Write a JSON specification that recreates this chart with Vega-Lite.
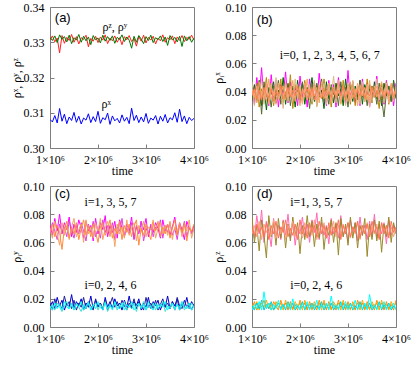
{
"$schema":"https://vega.github.io/schema/vega-lite/v6.json",
"background":"white",
"padding":{"left":9,"top":0,"right":0,"bottom":0},
"columns":2,
"spacing":{"row":2,"column":2},
"resolve":{"scale":{"color":"independent","x":"independent","y":"independent"}},
"datasets":{
"a":[
{"t":1000000,"x":0.3081,"y":0.3314,"z":0.3306},
{"t":1050000,"x":0.3074,"y":0.3305,"z":0.3318},
{"t":1100000,"x":0.3092,"y":0.3318,"z":0.3301},
{"t":1150000,"x":0.3071,"y":0.3299,"z":0.3312},
{"t":1200000,"x":0.3112,"y":0.3321,"z":0.3270},
{"t":1250000,"x":0.3076,"y":0.3308,"z":0.3319},
{"t":1300000,"x":0.3096,"y":0.3316,"z":0.3297},
{"t":1350000,"x":0.3069,"y":0.3301,"z":0.3314},
{"t":1400000,"x":0.3088,"y":0.3320,"z":0.3305},
{"t":1450000,"x":0.3078,"y":0.3296,"z":0.3322},
{"t":1500000,"x":0.3101,"y":0.3313,"z":0.3300},
{"t":1550000,"x":0.3073,"y":0.3306,"z":0.3316},
{"t":1600000,"x":0.3090,"y":0.3322,"z":0.3295},
{"t":1650000,"x":0.3068,"y":0.3300,"z":0.3313},
{"t":1700000,"x":0.3085,"y":0.3317,"z":0.3308},
{"t":1750000,"x":0.3079,"y":0.3304,"z":0.3320},
{"t":1800000,"x":0.3097,"y":0.3315,"z":0.3287},
{"t":1850000,"x":0.3072,"y":0.3293,"z":0.3311},
{"t":1900000,"x":0.3089,"y":0.3319,"z":0.3303},
{"t":1950000,"x":0.3075,"y":0.3307,"z":0.3317},
{"t":2000000,"x":0.3104,"y":0.3312,"z":0.3299},
{"t":2050000,"x":0.3070,"y":0.3298,"z":0.3315},
{"t":2100000,"x":0.3086,"y":0.3320,"z":0.3306},
{"t":2150000,"x":0.3080,"y":0.3303,"z":0.3321},
{"t":2200000,"x":0.3099,"y":0.3316,"z":0.3296},
{"t":2250000,"x":0.3067,"y":0.3305,"z":0.3312},
{"t":2300000,"x":0.3091,"y":0.3318,"z":0.3304},
{"t":2350000,"x":0.3077,"y":0.3297,"z":0.3318},
{"t":2400000,"x":0.3084,"y":0.3314,"z":0.3300},
{"t":2450000,"x":0.3071,"y":0.3308,"z":0.3313},
{"t":2500000,"x":0.3094,"y":0.3321,"z":0.3293},
{"t":2550000,"x":0.3076,"y":0.3302,"z":0.3316},
{"t":2600000,"x":0.3087,"y":0.3315,"z":0.3307},
{"t":2650000,"x":0.3069,"y":0.3306,"z":0.3319},
{"t":2700000,"x":0.3113,"y":0.3283,"z":0.3302},
{"t":2750000,"x":0.3078,"y":0.3317,"z":0.3311},
{"t":2800000,"x":0.3093,"y":0.3300,"z":0.3289},
{"t":2850000,"x":0.3072,"y":0.3319,"z":0.3316},
{"t":2900000,"x":0.3088,"y":0.3309,"z":0.3303},
{"t":2950000,"x":0.3074,"y":0.3296,"z":0.3320},
{"t":3000000,"x":0.3098,"y":0.3316,"z":0.3298},
{"t":3050000,"x":0.3070,"y":0.3305,"z":0.3314},
{"t":3100000,"x":0.3085,"y":0.3320,"z":0.3306},
{"t":3150000,"x":0.3079,"y":0.3299,"z":0.3317},
{"t":3200000,"x":0.3092,"y":0.3313,"z":0.3295},
{"t":3250000,"x":0.3068,"y":0.3307,"z":0.3312},
{"t":3300000,"x":0.3090,"y":0.3318,"z":0.3304},
{"t":3350000,"x":0.3076,"y":0.3302,"z":0.3321},
{"t":3400000,"x":0.3095,"y":0.3315,"z":0.3300},
{"t":3450000,"x":0.3071,"y":0.3291,"z":0.3313},
{"t":3500000,"x":0.3086,"y":0.3319,"z":0.3307},
{"t":3550000,"x":0.3080,"y":0.3306,"z":0.3318},
{"t":3600000,"x":0.3100,"y":0.3314,"z":0.3296},
{"t":3650000,"x":0.3073,"y":0.3301,"z":0.3315},
{"t":3700000,"x":0.3110,"y":0.3317,"z":0.3305},
{"t":3750000,"x":0.3075,"y":0.3288,"z":0.3319},
{"t":3800000,"x":0.3091,"y":0.3318,"z":0.3302},
{"t":3850000,"x":0.3069,"y":0.3304,"z":0.3314},
{"t":3900000,"x":0.3087,"y":0.3316,"z":0.3308},
{"t":3950000,"x":0.3078,"y":0.3300,"z":0.3320},
{"t":4000000,"x":0.3084,"y":0.3312,"z":0.3306}
],
"b":[
{"t":1000000,"i0":0.044,"i1":0.036,"i2":0.041,"i3":0.033,"i4":0.047,"i5":0.038,"i6":0.042,"i7":0.037},
{"t":1050000,"i0":0.031,"i1":0.045,"i2":0.035,"i3":0.043,"i4":0.030,"i5":0.041,"i6":0.036,"i7":0.042},
{"t":1100000,"i0":0.050,"i1":0.033,"i2":0.046,"i3":0.038,"i4":0.040,"i5":0.032,"i6":0.044,"i7":0.035},
{"t":1150000,"i0":0.036,"i1":0.048,"i2":0.029,"i3":0.045,"i4":0.035,"i5":0.047,"i6":0.033,"i7":0.041},
{"t":1200000,"i0":0.057,"i1":0.030,"i2":0.042,"i3":0.024,"i4":0.049,"i5":0.036,"i6":0.040,"i7":0.034},
{"t":1250000,"i0":0.033,"i1":0.044,"i2":0.037,"i3":0.047,"i4":0.031,"i5":0.042,"i6":0.035,"i7":0.043},
{"t":1300000,"i0":0.046,"i1":0.027,"i2":0.050,"i3":0.036,"i4":0.043,"i5":0.033,"i6":0.046,"i7":0.038},
{"t":1350000,"i0":0.030,"i1":0.043,"i2":0.033,"i3":0.041,"i4":0.037,"i5":0.049,"i6":0.031,"i7":0.036},
{"t":1400000,"i0":0.052,"i1":0.038,"i2":0.045,"i3":0.029,"i4":0.046,"i5":0.035,"i6":0.043,"i7":0.042},
{"t":1450000,"i0":0.035,"i1":0.047,"i2":0.030,"i3":0.044,"i4":0.032,"i5":0.040,"i6":0.037,"i7":0.033},
{"t":1500000,"i0":0.048,"i1":0.032,"i2":0.043,"i3":0.037,"i4":0.050,"i5":0.031,"i6":0.045,"i7":0.040},
{"t":1550000,"i0":0.029,"i1":0.041,"i2":0.036,"i3":0.048,"i4":0.034,"i5":0.046,"i6":0.034,"i7":0.037},
{"t":1600000,"i0":0.045,"i1":0.035,"i2":0.049,"i3":0.031,"i4":0.039,"i5":0.038,"i6":0.042,"i7":0.044},
{"t":1650000,"i0":0.038,"i1":0.050,"i2":0.032,"i3":0.043,"i4":0.028,"i5":0.044,"i6":0.036,"i7":0.035},
{"t":1700000,"i0":0.054,"i1":0.031,"i2":0.040,"i3":0.035,"i4":0.047,"i5":0.034,"i6":0.046,"i7":0.039},
{"t":1750000,"i0":0.032,"i1":0.045,"i2":0.034,"i3":0.046,"i4":0.036,"i5":0.042,"i6":0.033,"i7":0.043},
{"t":1800000,"i0":0.047,"i1":0.036,"i2":0.052,"i3":0.030,"i4":0.041,"i5":0.037,"i6":0.044,"i7":0.036},
{"t":1850000,"i0":0.034,"i1":0.042,"i2":0.028,"i3":0.044,"i4":0.033,"i5":0.048,"i6":0.035,"i7":0.041},
{"t":1900000,"i0":0.043,"i1":0.029,"i2":0.045,"i3":0.038,"i4":0.049,"i5":0.033,"i6":0.041,"i7":0.037},
{"t":1950000,"i0":0.030,"i1":0.048,"i2":0.036,"i3":0.041,"i4":0.035,"i5":0.045,"i6":0.038,"i7":0.044},
{"t":2000000,"i0":0.051,"i1":0.034,"i2":0.042,"i3":0.032,"i4":0.044,"i5":0.030,"i6":0.043,"i7":0.035},
{"t":2050000,"i0":0.036,"i1":0.046,"i2":0.033,"i3":0.047,"i4":0.031,"i5":0.042,"i6":0.032,"i7":0.040},
{"t":2100000,"i0":0.044,"i1":0.031,"i2":0.048,"i3":0.036,"i4":0.042,"i5":0.036,"i6":0.046,"i7":0.038},
{"t":2150000,"i0":0.029,"i1":0.043,"i2":0.035,"i3":0.042,"i4":0.037,"i5":0.049,"i6":0.034,"i7":0.042},
{"t":2200000,"i0":0.049,"i1":0.037,"i2":0.041,"i3":0.028,"i4":0.045,"i5":0.034,"i6":0.042,"i7":0.036},
{"t":2250000,"i0":0.035,"i1":0.050,"i2":0.031,"i3":0.045,"i4":0.033,"i5":0.041,"i6":0.037,"i7":0.043},
{"t":2300000,"i0":0.046,"i1":0.033,"i2":0.047,"i3":0.034,"i4":0.048,"i5":0.037,"i6":0.044,"i7":0.034},
{"t":2350000,"i0":0.031,"i1":0.044,"i2":0.030,"i3":0.046,"i4":0.029,"i5":0.043,"i6":0.033,"i7":0.041},
{"t":2400000,"i0":0.053,"i1":0.036,"i2":0.043,"i3":0.037,"i4":0.042,"i5":0.032,"i6":0.045,"i7":0.038},
{"t":2450000,"i0":0.037,"i1":0.041,"i2":0.035,"i3":0.049,"i4":0.036,"i5":0.047,"i6":0.036,"i7":0.035},
{"t":2500000,"i0":0.044,"i1":0.028,"i2":0.049,"i3":0.033,"i4":0.046,"i5":0.035,"i6":0.042,"i7":0.042},
{"t":2550000,"i0":0.030,"i1":0.047,"i2":0.034,"i3":0.042,"i4":0.031,"i5":0.040,"i6":0.035,"i7":0.037},
{"t":2600000,"i0":0.048,"i1":0.035,"i2":0.044,"i3":0.031,"i4":0.043,"i5":0.046,"i6":0.046,"i7":0.040},
{"t":2650000,"i0":0.034,"i1":0.043,"i2":0.029,"i3":0.045,"i4":0.037,"i5":0.033,"i6":0.032,"i7":0.036},
{"t":2700000,"i0":0.045,"i1":0.032,"i2":0.041,"i3":0.038,"i4":0.051,"i5":0.042,"i6":0.043,"i7":0.043},
{"t":2750000,"i0":0.029,"i1":0.046,"i2":0.036,"i3":0.044,"i4":0.032,"i5":0.036,"i6":0.037,"i7":0.035},
{"t":2800000,"i0":0.050,"i1":0.037,"i2":0.046,"i3":0.030,"i4":0.044,"i5":0.048,"i6":0.045,"i7":0.041},
{"t":2850000,"i0":0.036,"i1":0.042,"i2":0.032,"i3":0.047,"i4":0.035,"i5":0.031,"i6":0.034,"i7":0.037},
{"t":2900000,"i0":0.043,"i1":0.030,"i2":0.048,"i3":0.035,"i4":0.041,"i5":0.044,"i6":0.041,"i7":0.044},
{"t":2950000,"i0":0.031,"i1":0.049,"i2":0.034,"i3":0.043,"i4":0.030,"i5":0.038,"i6":0.036,"i7":0.035},
{"t":3000000,"i0":0.055,"i1":0.034,"i2":0.045,"i3":0.029,"i4":0.046,"i5":0.033,"i6":0.044,"i7":0.040},
{"t":3050000,"i0":0.034,"i1":0.045,"i2":0.031,"i3":0.046,"i4":0.034,"i5":0.047,"i6":0.033,"i7":0.038},
{"t":3100000,"i0":0.047,"i1":0.033,"i2":0.047,"i3":0.037,"i4":0.048,"i5":0.035,"i6":0.043,"i7":0.042},
{"t":3150000,"i0":0.032,"i1":0.044,"i2":0.030,"i3":0.041,"i4":0.036,"i5":0.042,"i6":0.036,"i7":0.036},
{"t":3200000,"i0":0.042,"i1":0.036,"i2":0.043,"i3":0.034,"i4":0.044,"i5":0.030,"i6":0.046,"i7":0.041},
{"t":3250000,"i0":0.030,"i1":0.048,"i2":0.035,"i3":0.048,"i4":0.031,"i5":0.045,"i6":0.034,"i7":0.037},
{"t":3300000,"i0":0.049,"i1":0.031,"i2":0.046,"i3":0.036,"i4":0.047,"i5":0.037,"i6":0.042,"i7":0.043},
{"t":3350000,"i0":0.035,"i1":0.045,"i2":0.033,"i3":0.042,"i4":0.033,"i5":0.043,"i6":0.037,"i7":0.035},
{"t":3400000,"i0":0.046,"i1":0.038,"i2":0.049,"i3":0.030,"i4":0.045,"i5":0.034,"i6":0.045,"i7":0.040},
{"t":3450000,"i0":0.029,"i1":0.042,"i2":0.032,"i3":0.045,"i4":0.029,"i5":0.048,"i6":0.033,"i7":0.037},
{"t":3500000,"i0":0.044,"i1":0.032,"i2":0.044,"i3":0.038,"i4":0.042,"i5":0.032,"i6":0.042,"i7":0.043},
{"t":3550000,"i0":0.037,"i1":0.047,"i2":0.036,"i3":0.043,"i4":0.037,"i5":0.044,"i6":0.036,"i7":0.036},
{"t":3600000,"i0":0.051,"i1":0.035,"i2":0.040,"i3":0.031,"i4":0.049,"i5":0.036,"i6":0.044,"i7":0.041},
{"t":3650000,"i0":0.033,"i1":0.043,"i2":0.028,"i3":0.046,"i4":0.034,"i5":0.041,"i6":0.035,"i7":0.038},
{"t":3700000,"i0":0.045,"i1":0.030,"i2":0.046,"i3":0.035,"i4":0.043,"i5":0.047,"i6":0.043,"i7":0.042},
{"t":3750000,"i0":0.031,"i1":0.046,"i2":0.035,"i3":0.022,"i4":0.032,"i5":0.035,"i6":0.037,"i7":0.035},
{"t":3800000,"i0":0.048,"i1":0.037,"i2":0.047,"i3":0.039,"i4":0.046,"i5":0.043,"i6":0.045,"i7":0.040},
{"t":3850000,"i0":0.036,"i1":0.044,"i2":0.031,"i3":0.044,"i4":0.036,"i5":0.034,"i6":0.032,"i7":0.037},
{"t":3900000,"i0":0.043,"i1":0.033,"i2":0.045,"i3":0.033,"i4":0.041,"i5":0.046,"i6":0.044,"i7":0.043},
{"t":3950000,"i0":0.030,"i1":0.048,"i2":0.034,"i3":0.047,"i4":0.033,"i5":0.038,"i6":0.036,"i7":0.036},
{"t":4000000,"i0":0.046,"i1":0.035,"i2":0.042,"i3":0.036,"i4":0.044,"i5":0.041,"i6":0.041,"i7":0.040}
],
"c":[
{"t":1000000,"i0":0.014,"i1":0.072,"i2":0.017,"i3":0.066,"i4":0.013,"i5":0.070,"i6":0.015,"i7":0.068},
{"t":1050000,"i0":0.018,"i1":0.065,"i2":0.012,"i3":0.074,"i4":0.016,"i5":0.063,"i6":0.012,"i7":0.073},
{"t":1100000,"i0":0.013,"i1":0.077,"i2":0.020,"i3":0.068,"i4":0.012,"i5":0.075,"i6":0.017,"i7":0.064},
{"t":1150000,"i0":0.021,"i1":0.068,"i2":0.014,"i3":0.062,"i4":0.017,"i5":0.066,"i6":0.013,"i7":0.072},
{"t":1200000,"i0":0.015,"i1":0.080,"i2":0.016,"i3":0.073,"i4":0.014,"i5":0.058,"i6":0.016,"i7":0.067},
{"t":1250000,"i0":0.019,"i1":0.066,"i2":0.013,"i3":0.067,"i4":0.011,"i5":0.074,"i6":0.012,"i7":0.055},
{"t":1300000,"i0":0.012,"i1":0.074,"i2":0.022,"i3":0.071,"i4":0.015,"i5":0.065,"i6":0.018,"i7":0.070},
{"t":1350000,"i0":0.017,"i1":0.069,"i2":0.015,"i3":0.064,"i4":0.018,"i5":0.072,"i6":0.014,"i7":0.075},
{"t":1400000,"i0":0.014,"i1":0.078,"i2":0.018,"i3":0.075,"i4":0.013,"i5":0.062,"i6":0.013,"i7":0.063},
{"t":1450000,"i0":0.023,"i1":0.064,"i2":0.013,"i3":0.069,"i4":0.016,"i5":0.071,"i6":0.017,"i7":0.071},
{"t":1500000,"i0":0.013,"i1":0.073,"i2":0.019,"i3":0.063,"i4":0.012,"i5":0.077,"i6":0.012,"i7":0.066},
{"t":1550000,"i0":0.018,"i1":0.067,"i2":0.012,"i3":0.072,"i4":0.017,"i5":0.064,"i6":0.016,"i7":0.074},
{"t":1600000,"i0":0.015,"i1":0.076,"i2":0.017,"i3":0.066,"i4":0.014,"i5":0.069,"i6":0.014,"i7":0.062},
{"t":1650000,"i0":0.020,"i1":0.070,"i2":0.014,"i3":0.074,"i4":0.011,"i5":0.073,"i6":0.018,"i7":0.070},
{"t":1700000,"i0":0.012,"i1":0.063,"i2":0.021,"i3":0.068,"i4":0.016,"i5":0.060,"i6":0.012,"i7":0.076},
{"t":1750000,"i0":0.017,"i1":0.075,"i2":0.013,"i3":0.061,"i4":0.013,"i5":0.076,"i6":0.015,"i7":0.065},
{"t":1800000,"i0":0.014,"i1":0.068,"i2":0.018,"i3":0.073,"i4":0.018,"i5":0.066,"i6":0.017,"i7":0.072},
{"t":1850000,"i0":0.022,"i1":0.072,"i2":0.015,"i3":0.067,"i4":0.012,"i5":0.071,"i6":0.012,"i7":0.064},
{"t":1900000,"i0":0.013,"i1":0.061,"i2":0.012,"i3":0.075,"i4":0.015,"i5":0.063,"i6":0.016,"i7":0.073},
{"t":1950000,"i0":0.019,"i1":0.077,"i2":0.020,"i3":0.064,"i4":0.017,"i5":0.074,"i6":0.013,"i7":0.067},
{"t":2000000,"i0":0.015,"i1":0.066,"i2":0.014,"i3":0.070,"i4":0.012,"i5":0.068,"i6":0.018,"i7":0.060},
{"t":2050000,"i0":0.017,"i1":0.074,"i2":0.017,"i3":0.063,"i4":0.016,"i5":0.077,"i6":0.014,"i7":0.071},
{"t":2100000,"i0":0.012,"i1":0.069,"i2":0.013,"i3":0.076,"i4":0.013,"i5":0.062,"i6":0.012,"i7":0.074},
{"t":2150000,"i0":0.021,"i1":0.079,"i2":0.019,"i3":0.067,"i4":0.018,"i5":0.070,"i6":0.017,"i7":0.065},
{"t":2200000,"i0":0.014,"i1":0.064,"i2":0.012,"i3":0.072,"i4":0.011,"i5":0.075,"i6":0.013,"i7":0.069},
{"t":2250000,"i0":0.018,"i1":0.072,"i2":0.016,"i3":0.065,"i4":0.015,"i5":0.064,"i6":0.016,"i7":0.076},
{"t":2300000,"i0":0.013,"i1":0.067,"i2":0.021,"i3":0.074,"i4":0.013,"i5":0.072,"i6":0.012,"i7":0.063},
{"t":2350000,"i0":0.020,"i1":0.075,"i2":0.014,"i3":0.062,"i4":0.017,"i5":0.057,"i6":0.018,"i7":0.070},
{"t":2400000,"i0":0.015,"i1":0.063,"i2":0.018,"i3":0.071,"i4":0.012,"i5":0.073,"i6":0.014,"i7":0.066},
{"t":2450000,"i0":0.017,"i1":0.076,"i2":0.013,"i3":0.068,"i4":0.016,"i5":0.066,"i6":0.013,"i7":0.075},
{"t":2500000,"i0":0.012,"i1":0.070,"i2":0.019,"i3":0.077,"i4":0.014,"i5":0.071,"i6":0.017,"i7":0.062},
{"t":2550000,"i0":0.019,"i1":0.065,"i2":0.015,"i3":0.064,"i4":0.018,"i5":0.063,"i6":0.012,"i7":0.072},
{"t":2600000,"i0":0.014,"i1":0.073,"i2":0.012,"i3":0.070,"i4":0.012,"i5":0.076,"i6":0.016,"i7":0.067},
{"t":2650000,"i0":0.022,"i1":0.068,"i2":0.017,"i3":0.066,"i4":0.015,"i5":0.065,"i6":0.014,"i7":0.073},
{"t":2700000,"i0":0.013,"i1":0.078,"i2":0.014,"i3":0.074,"i4":0.013,"i5":0.070,"i6":0.018,"i7":0.064},
{"t":2750000,"i0":0.018,"i1":0.062,"i2":0.020,"i3":0.063,"i4":0.017,"i5":0.074,"i6":0.012,"i7":0.071},
{"t":2800000,"i0":0.015,"i1":0.071,"i2":0.013,"i3":0.072,"i4":0.011,"i5":0.061,"i6":0.015,"i7":0.076},
{"t":2850000,"i0":0.020,"i1":0.066,"i2":0.018,"i3":0.067,"i4":0.016,"i5":0.072,"i6":0.017,"i7":0.058},
{"t":2900000,"i0":0.012,"i1":0.075,"i2":0.015,"i3":0.075,"i4":0.014,"i5":0.067,"i6":0.013,"i7":0.070},
{"t":2950000,"i0":0.017,"i1":0.069,"i2":0.012,"i3":0.061,"i4":0.018,"i5":0.075,"i6":0.016,"i7":0.065},
{"t":3000000,"i0":0.014,"i1":0.077,"i2":0.021,"i3":0.070,"i4":0.012,"i5":0.064,"i6":0.012,"i7":0.073},
{"t":3050000,"i0":0.021,"i1":0.064,"i2":0.014,"i3":0.066,"i4":0.015,"i5":0.071,"i6":0.018,"i7":0.067},
{"t":3100000,"i0":0.013,"i1":0.072,"i2":0.017,"i3":0.073,"i4":0.013,"i5":0.069,"i6":0.014,"i7":0.062},
{"t":3150000,"i0":0.018,"i1":0.067,"i2":0.013,"i3":0.064,"i4":0.017,"i5":0.076,"i6":0.012,"i7":0.074},
{"t":3200000,"i0":0.015,"i1":0.074,"i2":0.019,"i3":0.071,"i4":0.012,"i5":0.063,"i6":0.017,"i7":0.068},
{"t":3250000,"i0":0.019,"i1":0.070,"i2":0.012,"i3":0.068,"i4":0.016,"i5":0.070,"i6":0.013,"i7":0.075},
{"t":3300000,"i0":0.012,"i1":0.063,"i2":0.016,"i3":0.076,"i4":0.014,"i5":0.074,"i6":0.016,"i7":0.064},
{"t":3350000,"i0":0.017,"i1":0.076,"i2":0.020,"i3":0.063,"i4":0.018,"i5":0.066,"i6":0.014,"i7":0.071},
{"t":3400000,"i0":0.014,"i1":0.068,"i2":0.014,"i3":0.072,"i4":0.011,"i5":0.072,"i6":0.018,"i7":0.066},
{"t":3450000,"i0":0.022,"i1":0.073,"i2":0.017,"i3":0.067,"i4":0.015,"i5":0.065,"i6":0.012,"i7":0.073},
{"t":3500000,"i0":0.013,"i1":0.065,"i2":0.013,"i3":0.074,"i4":0.013,"i5":0.075,"i6":0.015,"i7":0.063},
{"t":3550000,"i0":0.018,"i1":0.071,"i2":0.018,"i3":0.065,"i4":0.017,"i5":0.062,"i6":0.017,"i7":0.070},
{"t":3600000,"i0":0.015,"i1":0.078,"i2":0.012,"i3":0.070,"i4":0.012,"i5":0.071,"i6":0.013,"i7":0.076},
{"t":3650000,"i0":0.020,"i1":0.066,"i2":0.021,"i3":0.062,"i4":0.016,"i5":0.067,"i6":0.016,"i7":0.065},
{"t":3700000,"i0":0.012,"i1":0.074,"i2":0.015,"i3":0.073,"i4":0.014,"i5":0.074,"i6":0.012,"i7":0.072},
{"t":3750000,"i0":0.017,"i1":0.069,"i2":0.013,"i3":0.068,"i4":0.018,"i5":0.064,"i6":0.018,"i7":0.067},
{"t":3800000,"i0":0.014,"i1":0.062,"i2":0.019,"i3":0.075,"i4":0.012,"i5":0.072,"i6":0.014,"i7":0.074},
{"t":3850000,"i0":0.021,"i1":0.075,"i2":0.014,"i3":0.064,"i4":0.015,"i5":0.068,"i6":0.013,"i7":0.061},
{"t":3900000,"i0":0.013,"i1":0.070,"i2":0.017,"i3":0.071,"i4":0.013,"i5":0.076,"i6":0.017,"i7":0.071},
{"t":3950000,"i0":0.018,"i1":0.067,"i2":0.012,"i3":0.066,"i4":0.017,"i5":0.063,"i6":0.012,"i7":0.068},
{"t":4000000,"i0":0.015,"i1":0.072,"i2":0.016,"i3":0.070,"i4":0.014,"i5":0.070,"i6":0.015,"i7":0.073}
],
"d":[
{"t":1000000,"i0":0.016,"i1":0.074,"i2":0.013,"i3":0.078,"i4":0.015,"i5":0.066,"i6":0.012,"i7":0.070},
{"t":1050000,"i0":0.013,"i1":0.063,"i2":0.018,"i3":0.060,"i4":0.012,"i5":0.072,"i6":0.016,"i7":0.065},
{"t":1100000,"i0":0.018,"i1":0.079,"i2":0.012,"i3":0.072,"i4":0.017,"i5":0.064,"i6":0.013,"i7":0.073},
{"t":1150000,"i0":0.012,"i1":0.066,"i2":0.016,"i3":0.054,"i4":0.013,"i5":0.075,"i6":0.018,"i7":0.067},
{"t":1200000,"i0":0.017,"i1":0.083,"i2":0.014,"i3":0.076,"i4":0.019,"i5":0.062,"i6":0.012,"i7":0.071},
{"t":1250000,"i0":0.014,"i1":0.060,"i2":0.019,"i3":0.065,"i4":0.012,"i5":0.073,"i6":0.025,"i7":0.064},
{"t":1300000,"i0":0.019,"i1":0.075,"i2":0.013,"i3":0.049,"i4":0.016,"i5":0.067,"i6":0.013,"i7":0.074},
{"t":1350000,"i0":0.013,"i1":0.068,"i2":0.017,"i3":0.079,"i4":0.013,"i5":0.071,"i6":0.017,"i7":0.062},
{"t":1400000,"i0":0.016,"i1":0.057,"i2":0.012,"i3":0.064,"i4":0.018,"i5":0.065,"i6":0.012,"i7":0.072},
{"t":1450000,"i0":0.012,"i1":0.077,"i2":0.018,"i3":0.074,"i4":0.012,"i5":0.076,"i6":0.016,"i7":0.066},
{"t":1500000,"i0":0.018,"i1":0.064,"i2":0.015,"i3":0.058,"i4":0.015,"i5":0.063,"i6":0.013,"i7":0.075},
{"t":1550000,"i0":0.014,"i1":0.072,"i2":0.012,"i3":0.077,"i4":0.017,"i5":0.070,"i6":0.019,"i7":0.063},
{"t":1600000,"i0":0.017,"i1":0.062,"i2":0.019,"i3":0.063,"i4":0.013,"i5":0.066,"i6":0.012,"i7":0.071},
{"t":1650000,"i0":0.012,"i1":0.076,"i2":0.014,"i3":0.075,"i4":0.016,"i5":0.074,"i6":0.016,"i7":0.067},
{"t":1700000,"i0":0.019,"i1":0.065,"i2":0.017,"i3":0.056,"i4":0.012,"i5":0.062,"i6":0.013,"i7":0.076},
{"t":1750000,"i0":0.013,"i1":0.080,"i2":0.012,"i3":0.073,"i4":0.018,"i5":0.072,"i6":0.017,"i7":0.064},
{"t":1800000,"i0":0.016,"i1":0.063,"i2":0.018,"i3":0.061,"i4":0.013,"i5":0.067,"i6":0.012,"i7":0.070},
{"t":1850000,"i0":0.012,"i1":0.074,"i2":0.013,"i3":0.078,"i4":0.017,"i5":0.075,"i6":0.020,"i7":0.065},
{"t":1900000,"i0":0.018,"i1":0.058,"i2":0.016,"i3":0.065,"i4":0.012,"i5":0.064,"i6":0.013,"i7":0.073},
{"t":1950000,"i0":0.014,"i1":0.071,"i2":0.012,"i3":0.074,"i4":0.015,"i5":0.071,"i6":0.016,"i7":0.062},
{"t":2000000,"i0":0.017,"i1":0.066,"i2":0.019,"i3":0.052,"i4":0.013,"i5":0.068,"i6":0.012,"i7":0.076},
{"t":2050000,"i0":0.012,"i1":0.078,"i2":0.014,"i3":0.072,"i4":0.018,"i5":0.063,"i6":0.017,"i7":0.066},
{"t":2100000,"i0":0.019,"i1":0.064,"i2":0.017,"i3":0.062,"i4":0.012,"i5":0.074,"i6":0.013,"i7":0.071},
{"t":2150000,"i0":0.013,"i1":0.073,"i2":0.012,"i3":0.079,"i4":0.016,"i5":0.066,"i6":0.018,"i7":0.063},
{"t":2200000,"i0":0.016,"i1":0.060,"i2":0.018,"i3":0.064,"i4":0.013,"i5":0.072,"i6":0.012,"i7":0.074},
{"t":2250000,"i0":0.012,"i1":0.076,"i2":0.013,"i3":0.075,"i4":0.017,"i5":0.065,"i6":0.016,"i7":0.067},
{"t":2300000,"i0":0.018,"i1":0.067,"i2":0.016,"i3":0.057,"i4":0.012,"i5":0.076,"i6":0.013,"i7":0.072},
{"t":2350000,"i0":0.014,"i1":0.081,"i2":0.012,"i3":0.073,"i4":0.015,"i5":0.062,"i6":0.019,"i7":0.064},
{"t":2400000,"i0":0.017,"i1":0.062,"i2":0.019,"i3":0.063,"i4":0.013,"i5":0.070,"i6":0.012,"i7":0.075},
{"t":2450000,"i0":0.012,"i1":0.074,"i2":0.014,"i3":0.078,"i4":0.018,"i5":0.067,"i6":0.016,"i7":0.066},
{"t":2500000,"i0":0.019,"i1":0.065,"i2":0.017,"i3":0.055,"i4":0.012,"i5":0.074,"i6":0.013,"i7":0.072},
{"t":2550000,"i0":0.013,"i1":0.072,"i2":0.012,"i3":0.071,"i4":0.016,"i5":0.063,"i6":0.017,"i7":0.063},
{"t":2600000,"i0":0.016,"i1":0.059,"i2":0.018,"i3":0.065,"i4":0.013,"i5":0.071,"i6":0.012,"i7":0.074},
{"t":2650000,"i0":0.012,"i1":0.077,"i2":0.013,"i3":0.076,"i4":0.017,"i5":0.066,"i6":0.022,"i7":0.065},
{"t":2700000,"i0":0.018,"i1":0.066,"i2":0.016,"i3":0.060,"i4":0.012,"i5":0.075,"i6":0.013,"i7":0.071},
{"t":2750000,"i0":0.014,"i1":0.073,"i2":0.012,"i3":0.074,"i4":0.015,"i5":0.064,"i6":0.016,"i7":0.067},
{"t":2800000,"i0":0.017,"i1":0.063,"i2":0.019,"i3":0.051,"i4":0.013,"i5":0.072,"i6":0.012,"i7":0.076},
{"t":2850000,"i0":0.012,"i1":0.079,"i2":0.014,"i3":0.077,"i4":0.018,"i5":0.065,"i6":0.017,"i7":0.062},
{"t":2900000,"i0":0.019,"i1":0.064,"i2":0.017,"i3":0.064,"i4":0.012,"i5":0.073,"i6":0.013,"i7":0.072},
{"t":2950000,"i0":0.013,"i1":0.071,"i2":0.012,"i3":0.073,"i4":0.016,"i5":0.067,"i6":0.018,"i7":0.066},
{"t":3000000,"i0":0.016,"i1":0.060,"i2":0.018,"i3":0.058,"i4":0.013,"i5":0.074,"i6":0.012,"i7":0.074},
{"t":3050000,"i0":0.012,"i1":0.076,"i2":0.013,"i3":0.078,"i4":0.017,"i5":0.063,"i6":0.016,"i7":0.064},
{"t":3100000,"i0":0.018,"i1":0.067,"i2":0.016,"i3":0.063,"i4":0.012,"i5":0.071,"i6":0.013,"i7":0.071},
{"t":3150000,"i0":0.014,"i1":0.074,"i2":0.012,"i3":0.074,"i4":0.015,"i5":0.066,"i6":0.019,"i7":0.067},
{"t":3200000,"i0":0.017,"i1":0.061,"i2":0.019,"i3":0.056,"i4":0.013,"i5":0.075,"i6":0.012,"i7":0.075},
{"t":3250000,"i0":0.012,"i1":0.078,"i2":0.014,"i3":0.072,"i4":0.018,"i5":0.062,"i6":0.016,"i7":0.063},
{"t":3300000,"i0":0.019,"i1":0.065,"i2":0.017,"i3":0.065,"i4":0.012,"i5":0.072,"i6":0.013,"i7":0.072},
{"t":3350000,"i0":0.013,"i1":0.072,"i2":0.012,"i3":0.077,"i4":0.016,"i5":0.067,"i6":0.017,"i7":0.066},
{"t":3400000,"i0":0.016,"i1":0.062,"i2":0.018,"i3":0.050,"i4":0.013,"i5":0.074,"i6":0.012,"i7":0.073},
{"t":3450000,"i0":0.012,"i1":0.075,"i2":0.013,"i3":0.073,"i4":0.017,"i5":0.064,"i6":0.023,"i7":0.064},
{"t":3500000,"i0":0.018,"i1":0.064,"i2":0.016,"i3":0.062,"i4":0.012,"i5":0.071,"i6":0.013,"i7":0.075},
{"t":3550000,"i0":0.014,"i1":0.080,"i2":0.012,"i3":0.076,"i4":0.015,"i5":0.066,"i6":0.016,"i7":0.067},
{"t":3600000,"i0":0.017,"i1":0.063,"i2":0.019,"i3":0.061,"i4":0.013,"i5":0.073,"i6":0.012,"i7":0.071},
{"t":3650000,"i0":0.012,"i1":0.073,"i2":0.014,"i3":0.075,"i4":0.018,"i5":0.063,"i6":0.017,"i7":0.062},
{"t":3700000,"i0":0.019,"i1":0.066,"i2":0.017,"i3":0.053,"i4":0.012,"i5":0.074,"i6":0.013,"i7":0.074},
{"t":3750000,"i0":0.013,"i1":0.074,"i2":0.012,"i3":0.073,"i4":0.016,"i5":0.067,"i6":0.018,"i7":0.066},
{"t":3800000,"i0":0.016,"i1":0.059,"i2":0.018,"i3":0.064,"i4":0.013,"i5":0.072,"i6":0.012,"i7":0.072},
{"t":3850000,"i0":0.012,"i1":0.076,"i2":0.013,"i3":0.078,"i4":0.017,"i5":0.065,"i6":0.016,"i7":0.063},
{"t":3900000,"i0":0.018,"i1":0.065,"i2":0.016,"i3":0.060,"i4":0.012,"i5":0.071,"i6":0.013,"i7":0.075},
{"t":3950000,"i0":0.014,"i1":0.072,"i2":0.012,"i3":0.074,"i4":0.015,"i5":0.064,"i6":0.017,"i7":0.067},
{"t":4000000,"i0":0.017,"i1":0.067,"i2":0.019,"i3":0.066,"i4":0.013,"i5":0.070,"i6":0.012,"i7":0.071}
]
},
"concat":[
{"width":144,"height":141,
"layer":[
{"data":{"name":"a"},"transform":[{"fold":["x","z","y"],"as":["s","v"]}],
"mark":{"type":"line","strokeWidth":1,"clip":true},
"encoding":{
"x":{"field":"t","type":"quantitative","scale":{"domain":[1000000,4000000],"nice":false,"zero":false},"axis":{"values":[1000000,2000000,3000000,4000000],"tickCount":20,"labelExpr":"datum.value/1000000+'×10⁶'","labelOverlap":false,"title":"time"}},
"y":{"field":"v","type":"quantitative","scale":{"domain":[0.30,0.34],"nice":false,"zero":false},"axis":{"values":[0.30,0.31,0.32,0.33,0.34],"tickCount":20,"format":".2f","labelOverlap":false,"title":"ρˣ, ρʸ, ρᶻ"}},
"color":{"field":"s","type":"nominal","scale":{"domain":["x","y","z"],"range":["#0000ff","#007a00","#ff2020"]},"legend":null}}},
{"data":{"values":[{"t":1100000,"v":0.3369,"l":"(a)"}]},"mark":{"type":"text","font":"Liberation Sans","fontSize":13,"align":"left"},
"encoding":{"x":{"field":"t","type":"quantitative"},"y":{"field":"v","type":"quantitative"},"text":{"field":"l"}}},
{"data":{"values":[{"t":2350000,"v":0.3343,"l":"ρᶻ, ρʸ"},{"t":2170000,"v":0.3126,"l":"ρˣ"}]},"mark":{"type":"text","font":"Liberation Serif","fontSize":12},
"encoding":{"x":{"field":"t","type":"quantitative"},"y":{"field":"v","type":"quantitative"},"text":{"field":"l"}}}
]},
{"width":144,"height":141,
"layer":[
{"data":{"name":"b"},"transform":[{"fold":["i0","i1","i2","i3","i4","i5","i6","i7"],"as":["s","v"]}],
"mark":{"type":"line","strokeWidth":1,"clip":true},
"encoding":{
"x":{"field":"t","type":"quantitative","scale":{"domain":[1000000,4000000],"nice":false,"zero":false},"axis":{"values":[1000000,2000000,3000000,4000000],"tickCount":20,"labelExpr":"datum.value/1000000+'×10⁶'","labelOverlap":false,"title":"time"}},
"y":{"field":"v","type":"quantitative","scale":{"domain":[0,0.1],"nice":false},"axis":{"values":[0,0.02,0.04,0.06,0.08,0.1],"tickCount":20,"format":".2f","labelOverlap":false,"title":"ρᵢˣ"}},
"color":{"field":"s","type":"nominal","scale":{"domain":["i0","i1","i2","i3","i4","i5","i6","i7"],"range":["#ff00ff","#006400","#b8860b","#556b2f","#deb887","#f4a460","#ffa07a","#ff7f50"]},"legend":null}}},
{"data":{"values":[{"t":1100000,"v":0.0909,"l":"(b)"}]},"mark":{"type":"text","font":"Liberation Sans","fontSize":13,"align":"left"},
"encoding":{"x":{"field":"t","type":"quantitative"},"y":{"field":"v","type":"quantitative"},"text":{"field":"l"}}},
{"data":{"values":[{"t":2620000,"v":0.0657,"l":"i=0, 1, 2, 3, 4, 5, 6, 7"}]},"mark":{"type":"text","font":"Liberation Serif","fontSize":12},
"encoding":{"x":{"field":"t","type":"quantitative"},"y":{"field":"v","type":"quantitative"},"text":{"field":"l"}}}
]},
{"width":144,"height":141,
"layer":[
{"data":{"name":"c"},"transform":[{"fold":["i0","i1","i2","i3","i4","i5","i6","i7"],"as":["s","v"]}],
"mark":{"type":"line","strokeWidth":1,"clip":true},
"encoding":{
"x":{"field":"t","type":"quantitative","scale":{"domain":[1000000,4000000],"nice":false,"zero":false},"axis":{"values":[1000000,2000000,3000000,4000000],"tickCount":20,"labelExpr":"datum.value/1000000+'×10⁶'","labelOverlap":false,"title":"time"}},
"y":{"field":"v","type":"quantitative","scale":{"domain":[0,0.1],"nice":false},"axis":{"values":[0,0.02,0.04,0.06,0.08,0.1],"tickCount":20,"format":".2f","labelOverlap":false,"title":"ρᵢʸ"}},
"color":{"field":"s","type":"nominal","scale":{"domain":["i0","i1","i2","i3","i4","i5","i6","i7"],"range":["#0000cd","#ff00ff","#2020a0","#e040e0","#40e0d0","#f4a460","#00ffff","#ff8c3c"]},"legend":null}}},
{"data":{"values":[{"t":1100000,"v":0.0945,"l":"(c)"}]},"mark":{"type":"text","font":"Liberation Sans","fontSize":13,"align":"left"},
"encoding":{"x":{"field":"t","type":"quantitative"},"y":{"field":"v","type":"quantitative"},"text":{"field":"l"}}},
{"data":{"values":[{"t":2260000,"v":0.0884,"l":"i=1, 3, 5, 7"},{"t":2260000,"v":0.030,"l":"i=0, 2, 4, 6"}]},"mark":{"type":"text","font":"Liberation Serif","fontSize":12},
"encoding":{"x":{"field":"t","type":"quantitative"},"y":{"field":"v","type":"quantitative"},"text":{"field":"l"}}}
]},
{"width":144,"height":141,
"layer":[
{"data":{"name":"d"},"transform":[{"fold":["i0","i1","i2","i3","i4","i5","i6","i7"],"as":["s","v"]}],
"mark":{"type":"line","strokeWidth":1,"clip":true},
"encoding":{
"x":{"field":"t","type":"quantitative","scale":{"domain":[1000000,4000000],"nice":false,"zero":false},"axis":{"values":[1000000,2000000,3000000,4000000],"tickCount":20,"labelExpr":"datum.value/1000000+'×10⁶'","labelOverlap":false,"title":"time"}},
"y":{"field":"v","type":"quantitative","scale":{"domain":[0,0.1],"nice":false},"axis":{"values":[0,0.02,0.04,0.06,0.08,0.1],"tickCount":20,"format":".2f","labelOverlap":false,"title":"ρᵢᶻ"}},
"color":{"field":"s","type":"nominal","scale":{"domain":["i0","i1","i2","i3","i4","i5","i6","i7"],"range":["#ffa500","#ff69b4","#ff8c00","#9a8a2a","#00ced1","#ffa07a","#00ffff","#ff7256"]},"legend":null}}},
{"data":{"values":[{"t":1100000,"v":0.0945,"l":"(d)"}]},"mark":{"type":"text","font":"Liberation Sans","fontSize":13,"align":"left"},
"encoding":{"x":{"field":"t","type":"quantitative"},"y":{"field":"v","type":"quantitative"},"text":{"field":"l"}}},
{"data":{"values":[{"t":2340000,"v":0.0884,"l":"i=1, 3, 5, 7"},{"t":2340000,"v":0.030,"l":"i=0, 2, 4, 6"}]},"mark":{"type":"text","font":"Liberation Serif","fontSize":12},
"encoding":{"x":{"field":"t","type":"quantitative"},"y":{"field":"v","type":"quantitative"},"text":{"field":"l"}}}
]}
],
"config":{
"font":"Liberation Serif",
"view":{"stroke":"#7f7f7f","strokeWidth":1},
"axis":{"domain":false,"grid":false,"tickColor":"#7f7f7f","tickSize":-4,"labelFont":"Liberation Serif","labelFontSize":12,"labelColor":"black","labelFlush":false,"labelPadding":10,"labelOverlap":false,"titleFont":"Liberation Serif","titleFontSize":12,"titleFontWeight":"normal","titleColor":"black","titlePadding":2},
"axisX":{"titlePadding":0},
"axisY":{"titlePadding":0}
}
}
